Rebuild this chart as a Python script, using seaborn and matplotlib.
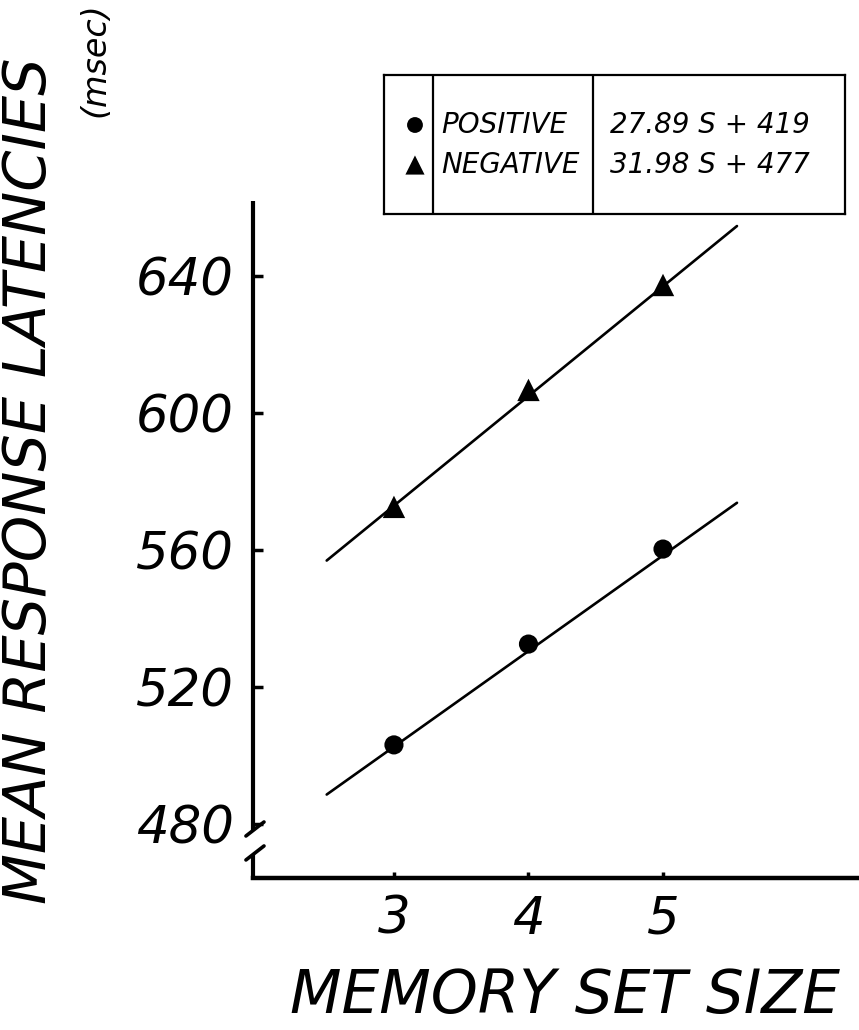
import numpy as np
import pandas as pd
import matplotlib
matplotlib.use("Agg")
import matplotlib.pyplot as plt
import seaborn as sns

# Mean response latencies (msec) by memory set size
set_sizes = [3, 4, 5]
positive_ms = [503.2, 532.6, 560.3]
negative_ms = [572.6, 606.7, 637.3]

conditions = ["POSITIVE", "NEGATIVE"]
cond_markers = {"POSITIVE": "o", "NEGATIVE": "^"}
cond_sizes = {"POSITIVE": 190, "NEGATIVE": 260}
key_sizes = {"POSITIVE": 130, "NEGATIVE": 190}

# Least-squares lines RT = slope * S + intercept
slopes = [27.89, 31.98]
intercepts = [419, 477]
equation_labels = ["27.89 S + 419", "31.98 S + 477"]
fit_span = [2.5, 5.55]

y_ticks = [480, 520, 560, 600, 640]
x_ticks = [3, 4, 5]

sns.set_theme(style="ticks")
plt.rcParams["font.family"] = ["DejaVu Sans"]
plt.rcParams["font.style"] = "italic"

means = pd.DataFrame({
    "S": set_sizes * 2,
    "RT": positive_ms + negative_ms,
    "condition": [c for c in conditions for _ in set_sizes],
})
fit_rows = []
for cond, b, a in zip(conditions, slopes, intercepts):
    for s in fit_span:
        fit_rows.append({"S": s, "RT": b * s + a, "condition": cond})
fits = pd.DataFrame(fit_rows)

fig = plt.figure(figsize=(8.59, 10.30), dpi=100)
ax = fig.add_axes([0.2945, 0.1476, 0.7055, 0.6573])

sns.lineplot(data=fits, x="S", y="RT", units="condition", estimator=None,
             color="black", linewidth=1.9, ax=ax, legend=False)
sns.scatterplot(data=means, x="S", y="RT", style="condition",
                markers=cond_markers, size="condition", sizes=cond_sizes,
                color="black", edgecolor="black", linewidth=0,
                ax=ax, legend=False, zorder=5)

ax.set_xlim(1.952, 6.457)
ax.set_ylim(464.4, 661.8)
ax.set_xticks(x_ticks)
ax.set_yticks(y_ticks)
ax.set_xticklabels([str(v) for v in x_ticks], fontsize=37, style="italic", color="black")
ax.set_yticklabels([str(v) for v in y_ticks], fontsize=37, style="italic", color="black")
ax.set_xlabel("")
ax.set_ylabel("")

ax.tick_params(axis="y", direction="in", length=7, width=2.5, color="black", pad=14)
ax.tick_params(axis="x", direction="in", length=4, width=2.5, color="black", pad=12)

for side in ["top", "right", "left"]:
    ax.spines[side].set_visible(False)
ax.spines["bottom"].set_linewidth(3.2)
ax.spines["bottom"].set_color("black")

# Left axis with a break near the bottom
axis_kw = dict(transform=ax.transAxes, clip_on=False, color="black",
               linewidth=3.0, solid_capstyle="butt")
ax.plot([0, 0], [0.070, 1.0], **axis_kw)
ax.plot([0, 0], [-0.003, 0.035], **axis_kw)
brk_kw = dict(transform=ax.transAxes, clip_on=False, color="black", linewidth=2.6)
ax.plot([-0.0116, 0.0182], [0.062, 0.0827], **brk_kw)
ax.plot([-0.0116, 0.0182], [0.0266, 0.0473], **brk_kw)

# Axis titles
fig.text(0.034, 0.533, "MEAN RESPONSE LATENCIES", rotation=90, fontsize=42.5,
         style="italic", ha="center", va="center", color="black")
fig.text(0.110, 0.9417, "(msec)", rotation=90, fontsize=24,
         style="italic", ha="center", va="center", color="black")
fig.text(0.6577, 0.033, "MEMORY SET SIZE", fontsize=43,
         style="italic", ha="center", va="center", color="black")

# Key table: marker | condition | fitted equation
leg = fig.add_axes([0.447, 0.7922, 0.5367, 0.135], zorder=10)
leg.set_facecolor("white")
leg.set_xlim(0, 461)
leg.set_ylim(2.225, -1.25)
leg.set_xticks([])
leg.set_yticks([])
for sp in leg.spines.values():
    sp.set_visible(True)
    sp.set_linewidth(1.6)
    sp.set_color("black")
leg.axvline(49, color="black", linewidth=1.6)
leg.axvline(209, color="black", linewidth=1.6)

key = pd.DataFrame({"condition": conditions, "col": [31, 31], "row": [0, 1]})
sns.scatterplot(data=key, x="col", y="row", style="condition",
                markers=cond_markers, size="condition", sizes=key_sizes,
                color="black", edgecolor="black", linewidth=0,
                ax=leg, legend=False)
leg.set_xlabel("")
leg.set_ylabel("")
for i, (cond, eq) in enumerate(zip(conditions, equation_labels)):
    leg.text(57, i, cond, fontsize=20, style="italic", va="center", ha="left", color="black")
    leg.text(226, i, eq, fontsize=20, style="italic", va="center", ha="left", color="black")

fig.savefig("out.png", dpi=100, facecolor="white")
